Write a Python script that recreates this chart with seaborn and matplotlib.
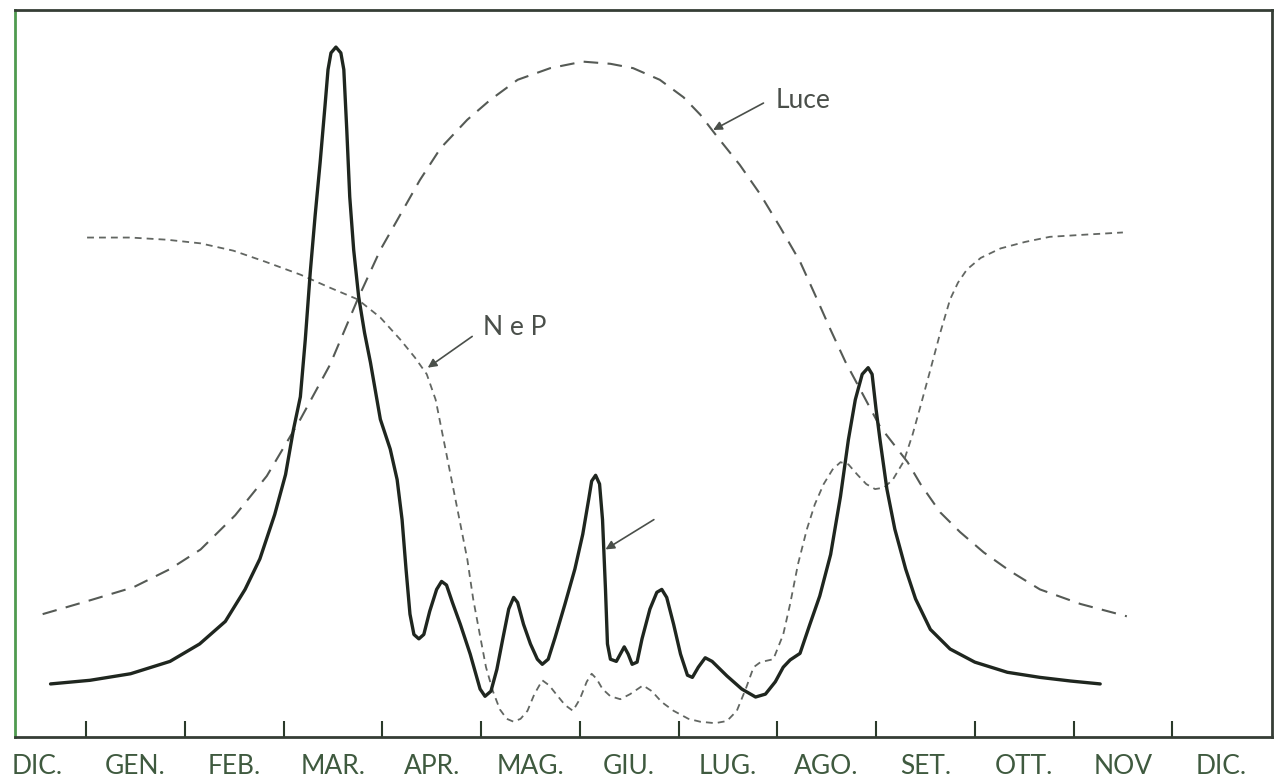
import pandas as pd
import matplotlib.pyplot as plt
import seaborn as sns

# mesi: tacche ai confini, etichette a metà
month_edges = list(range(1, 13))
month_mid = [m + 0.5 for m in range(0, 13)]
month_labels = ['DIC.', 'GEN.', 'FEB.', 'MAR.', 'APR.', 'MAG.', 'GIU.',
                'LUG.', 'AGO.', 'SET.', 'OTT.', 'NOV', 'DIC.']

# fitoplancton (curva continua)
fito_x = [0.64, 1.04, 1.45, 1.85, 2.15, 2.41, 2.61, 2.76, 2.91, 3.02,
          3.10, 3.17, 3.22, 3.27, 3.32, 3.37, 3.42, 3.45, 3.48, 3.53,
          3.58, 3.61, 3.64, 3.67, 3.71, 3.76, 3.82, 3.88, 3.98, 4.08,
          4.15, 4.20, 4.24, 4.28, 4.32, 4.37, 4.42, 4.48, 4.55, 4.60,
          4.65, 4.71, 4.79, 4.89, 4.99, 5.04, 5.10, 5.16, 5.22, 5.28,
          5.33, 5.37, 5.43, 5.50, 5.57, 5.62, 5.68, 5.75, 5.85, 5.95,
          6.03, 6.09, 6.12, 6.16, 6.20, 6.23, 6.26, 6.28, 6.31, 6.37,
          6.41, 6.45, 6.49, 6.53, 6.58, 6.63, 6.71, 6.78, 6.83, 6.88,
          6.95, 7.02, 7.09, 7.14, 7.20, 7.27, 7.34, 7.49, 7.64, 7.78,
          7.88, 7.98, 8.06, 8.13, 8.23, 8.33, 8.43, 8.54, 8.64, 8.72,
          8.79, 8.86, 8.92, 8.96, 9.00, 9.04, 9.11, 9.19, 9.30, 9.40,
          9.55, 9.75, 10.00, 10.33, 10.66, 10.97, 11.27]
fito_y = [7.3, 7.8, 8.7, 10.4, 12.8, 15.9, 20.3, 24.5, 30.6, 36.1,
          42.3, 46.8, 54.7, 63.9, 71.8, 79.0, 86.9, 91.8, 94.1, 94.9,
          94.1, 91.8, 83.5, 74.3, 67.0, 60.6, 55.6, 51.5, 43.7, 39.6,
          35.4, 29.9, 23.1, 16.9, 14.1, 13.5, 14.1, 17.3, 20.3, 21.4,
          20.9, 18.5, 15.5, 11.4, 6.6, 5.6, 6.3, 9.3, 13.5, 17.6,
          19.2, 18.5, 15.5, 12.8, 10.7, 10.0, 10.7, 13.7, 18.3, 23.1,
          27.9, 32.7, 35.2, 36.0, 34.8, 29.9, 20.3, 12.8, 10.7, 10.4,
          11.4, 12.4, 11.4, 10.0, 10.3, 13.5, 17.6, 19.9, 20.3, 19.2,
          15.5, 11.4, 8.5, 8.2, 9.6, 10.9, 10.4, 8.4, 6.6, 5.5,
          5.9, 7.6, 9.6, 10.6, 11.5, 15.5, 19.4, 25.1, 33.1, 40.9,
          46.4, 49.9, 50.8, 49.9, 45.1, 40.9, 34.1, 28.6, 23.1, 19.0,
          14.8, 12.1, 10.3, 8.9, 8.2, 7.7, 7.3]

# luce
luce_x = [0.56, 1.04, 1.48, 1.85, 2.16, 2.51, 2.83, 3.17, 3.47, 3.75,
          3.98, 4.18, 4.38, 4.59, 4.86, 5.09, 5.37, 5.70, 6.03, 6.31,
          6.54, 6.81, 7.05, 7.22, 7.39, 7.62, 7.83, 8.03, 8.23, 8.38,
          8.54, 8.69, 8.84, 9.04, 9.32, 9.45, 9.65, 9.85, 10.09, 10.36,
          10.66, 11.07, 11.54]
luce_y = [16.9, 18.8, 20.6, 23.1, 25.8, 30.5, 35.9, 43.7, 51.2, 60.2,
          67.0, 71.8, 76.6, 81.0, 84.9, 87.6, 90.4, 92.0, 92.9, 92.6,
          92.0, 90.4, 88.0, 85.6, 82.6, 78.7, 74.6, 70.1, 65.4, 60.9,
          56.0, 51.6, 47.8, 42.7, 37.8, 34.8, 30.9, 28.2, 25.4, 22.8,
          20.3, 18.3, 16.6]

# nutrienti (N e P)
nep_x = [1.01, 1.45, 1.82, 2.16, 2.49, 2.81, 3.17, 3.47, 3.75, 3.98,
         4.18, 4.33, 4.45, 4.54, 4.60, 4.66, 4.72, 4.79, 4.86, 4.92,
         4.99, 5.05, 5.12, 5.19, 5.26, 5.33, 5.40, 5.47, 5.54, 5.62,
         5.69, 5.76, 5.85, 5.93, 6.00, 6.07, 6.12, 6.17, 6.23, 6.31,
         6.41, 6.51, 6.64, 6.73, 6.83, 6.95, 7.10, 7.22, 7.37, 7.49,
         7.59, 7.68, 7.76, 7.83, 7.96, 8.06, 8.13, 8.21, 8.30, 8.38,
         8.47, 8.56, 8.64, 8.72, 8.81, 8.90, 8.99, 9.08, 9.17, 9.28,
         9.37, 9.45, 9.55, 9.65, 9.75, 9.83, 9.92, 10.06, 10.26, 10.51,
         10.76, 11.12, 11.50]
nep_y = [68.7, 68.7, 68.4, 67.9, 66.9, 65.4, 63.6, 61.8, 60.2, 57.7,
         54.7, 52.2, 49.9, 46.4, 42.3, 38.2, 34.1, 29.3, 24.5, 19.0,
         13.9, 9.6, 6.3, 3.8, 2.5, 2.1, 2.5, 3.6, 5.9, 7.8,
         7.1, 5.9, 4.4, 3.6, 5.2, 7.6, 8.7, 8.0, 6.6, 5.6,
         5.2, 5.9, 7.1, 6.3, 4.8, 3.6, 2.5, 2.1, 1.9, 2.2,
         3.6, 6.6, 9.6, 10.3, 10.7, 14.1, 18.3, 23.8, 28.6, 32.0,
         34.8, 36.8, 37.8, 37.5, 36.1, 34.8, 34.1, 34.3, 35.4, 37.9,
         41.6, 45.5, 50.5, 55.6, 60.2, 62.5, 64.3, 65.9, 67.2, 68.1,
         68.8, 69.1, 69.4]

fito = pd.DataFrame({'x': fito_x, 'y': fito_y})
luce = pd.DataFrame({'x': luce_x, 'y': luce_y})
nep = pd.DataFrame({'x': nep_x, 'y': nep_y})

sns.set_style('white')
plt.rcParams['font.family'] = ['Lato', 'DejaVu Sans']

fig = plt.figure(figsize=(12.8, 7.8), dpi=100)
ax = fig.add_axes([15 / 1280, 43 / 780, 1257 / 1280, 727 / 780])

sns.lineplot(data=luce, x='x', y='y', ax=ax, estimator=None, sort=False,
             color='#555a55', lw=1.5, linestyle=(0, (7, 4.5)))
sns.lineplot(data=nep, x='x', y='y', ax=ax, estimator=None, sort=False,
             color='#626662', lw=1.3, linestyle=(0, (3.8, 2.8)))
sns.lineplot(data=fito, x='x', y='y', ax=ax, estimator=None, sort=False,
             color='#1f261f', lw=2.4, solid_joinstyle='round')

ax.set_xlim(0.28, 13.01)
ax.set_ylim(0, 100)
ax.set_xlabel('')
ax.set_ylabel('')
ax.set_yticks([])

ax.set_xticks(month_edges)
ax.set_xticklabels([])
ax.tick_params(axis='x', which='major', bottom=True, direction='in',
               length=11.5, width=1.5, color='#2a3a2a')
ax.set_xticks(month_mid, month_labels, minor=True)
ax.tick_params(axis='x', which='minor', bottom=True, length=0, pad=12,
               labelsize=19, labelcolor='#3f5a3f')

for side in ['top', 'right', 'bottom']:
    ax.spines[side].set_color('#353d35')
    ax.spines[side].set_linewidth(2)
ax.spines['left'].set_color('#4f9a4f')
ax.spines['left'].set_linewidth(2)

arrow = dict(arrowstyle='-|>', lw=1.2, color='#4a4f4a', mutation_scale=13,
             shrinkA=0, shrinkB=0)
ax.annotate('', xy=(7.35, 83.5), xytext=(7.86, 87.2), arrowprops=arrow)
ax.text(7.98, 87.6, 'Luce', fontsize=19, color='#4a4f4a', va='center',
        ha='left')
ax.annotate('', xy=(4.46, 50.8), xytext=(4.91, 55.1), arrowprops=arrow)
ax.text(5.02, 56.3, 'N e P', fontsize=19, color='#4a4f4a', va='center',
        ha='left')
ax.annotate('', xy=(6.26, 25.8), xytext=(6.75, 29.9), arrowprops=arrow)

plt.savefig('out.png', dpi=100)
plt.close()
